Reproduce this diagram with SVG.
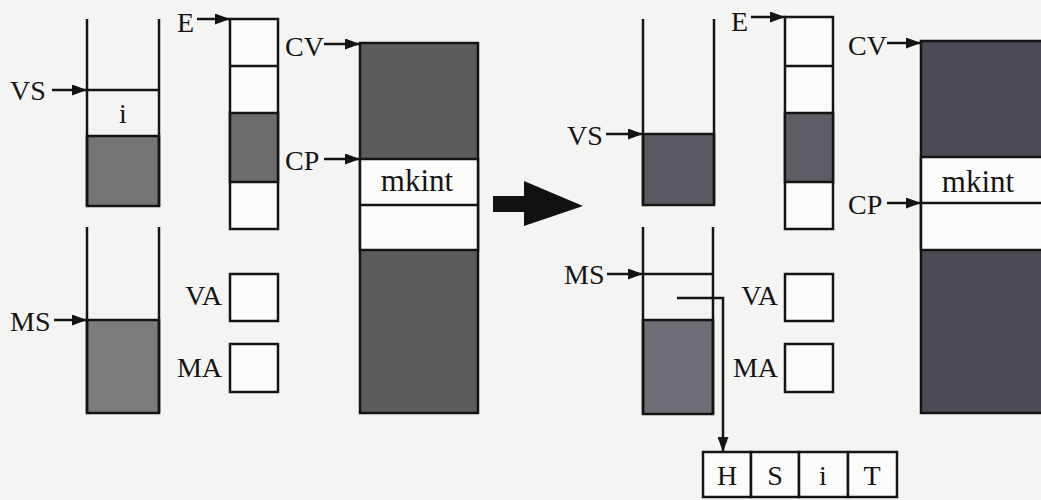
<svg xmlns="http://www.w3.org/2000/svg" width="1041" height="500" viewBox="0 0 1041 500">
<style>
.ln{stroke:#141414;stroke-width:2.5;fill:none}
.box{stroke:#141414;stroke-width:2.5;fill:#fbfbfa}
.sh{stroke:#141414;stroke-width:2.5}
.t{font-family:"Liberation Serif","Times New Roman",serif;font-size:28px;fill:#141414}
.mk{font-size:31px}
.ptr{stroke:#141414;stroke-width:2.5;fill:none;marker-end:url(#ah)}
</style>
<defs>
<marker id="ah" viewBox="0 0 15 11" refX="15" refY="5.5" markerWidth="15" markerHeight="11" markerUnits="userSpaceOnUse" orient="auto">
<path d="M0,0 L15,5.5 L0,11 Z" fill="#141414"/>
</marker>
</defs>
<rect width="1041" height="500" fill="#f4f4f2"/>

<!-- LEFT STATE -->
<g id="vs-stack-left">
<rect x="87" y="136" width="72" height="70" class="sh" fill="#747474"/>
<path class="ln" d="M87,19 V206 M159,19 V206 M87,90 H159"/>
<text class="t" x="123" y="123" text-anchor="middle">i</text>
</g>
<g id="e-stack-left">
<rect x="230" y="19" width="48" height="210" class="box"/>
<rect x="230" y="113" width="48" height="69" class="sh" fill="#6c6c6c"/>
<path class="ln" d="M230,66 H278"/>
</g>
<g id="ms-stack-left">
<rect x="87" y="320" width="72" height="93" class="sh" fill="#7c7c7c"/>
<path class="ln" d="M87,227 V413 M159,227 V413"/>
</g>
<g id="va-left"><rect x="230" y="274" width="48" height="47" class="box"/></g>
<g id="ma-left"><rect x="230" y="344" width="48" height="48" class="box"/></g>
<g id="code-left">
<rect x="360" y="43" width="118" height="370" class="sh" fill="#5c5c5c"/>
<rect x="360" y="159" width="118" height="91" class="box"/>
<path class="ln" d="M360,205 H478"/>
<text class="t mk" x="417" y="191" text-anchor="middle">mkint</text>
</g>

<!-- transition arrow -->
<g id="transition">
<polygon points="493,196 524,196 524,181 583,206 524,226 524,212 493,212" fill="#111"/>
</g>

<!-- RIGHT STATE -->
<g id="vs-stack-right">
<rect x="643" y="134" width="71" height="71" class="sh" fill="#5a5a62"/>
<path class="ln" d="M643,19 V205 M714,19 V205"/>
</g>
<g id="e-stack-right">
<rect x="785" y="17" width="48" height="212" class="box"/>
<rect x="785" y="113" width="48" height="69" class="sh" fill="#5e5e66"/>
<path class="ln" d="M785,66 H833"/>
</g>
<g id="ms-stack-right">
<rect x="643" y="320" width="70" height="94" class="sh" fill="#6e6e76"/>
<path class="ln" d="M643,227 V414 M713,227 V414 M643,274 H713"/>
</g>
<g id="va-right"><rect x="785" y="274" width="48" height="47" class="box"/></g>
<g id="ma-right"><rect x="785" y="344" width="48" height="48" class="box"/></g>
<g id="code-right">
<rect x="921" y="41" width="130" height="372" class="sh" fill="#4c4c57"/>
<rect x="921" y="157" width="130" height="93" class="box"/>
<path class="ln" d="M921,203 H1041"/>
<text class="t mk" x="978" y="192" text-anchor="middle">mkint</text>
</g>
<g id="heap-cell">
<rect x="703" y="452" width="48" height="45" class="box"/>
<rect x="751" y="452" width="48" height="45" class="box"/>
<rect x="799" y="452" width="49" height="45" class="box"/>
<rect x="848" y="452" width="49" height="45" class="box"/>
<text class="t" x="727" y="485" text-anchor="middle">H</text>
<text class="t" x="775" y="485" text-anchor="middle">S</text>
<text class="t" x="823" y="485" text-anchor="middle">i</text>
<text class="t" x="872" y="485" text-anchor="middle">T</text>
</g>

<!-- labels -->
<g id="labels">
<text class="t" x="10" y="100">VS</text>
<text class="t" x="10" y="331">MS</text>
<text class="t" x="177" y="32">E</text>
<text class="t" x="222" y="305" text-anchor="end">VA</text>
<text class="t" x="222" y="377" text-anchor="end">MA</text>
<text class="t" x="285" y="56">CV</text>
<text class="t" x="285" y="170">CP</text>
<text class="t" x="567" y="145">VS</text>
<text class="t" x="564" y="284">MS</text>
<text class="t" x="731" y="31">E</text>
<text class="t" x="778" y="305" text-anchor="end">VA</text>
<text class="t" x="778" y="377" text-anchor="end">MA</text>
<text class="t" x="848" y="55">CV</text>
<text class="t" x="848" y="214">CP</text>
</g>

<!-- connectors -->
<g id="connectors">
<path class="ptr" d="M52,90 H87"/>
<path class="ptr" d="M54,320 H87"/>
<path class="ptr" d="M197,19 H230"/>
<path class="ptr" d="M324,44 H360"/>
<path class="ptr" d="M324,159 H360"/>
<path class="ptr" d="M606,134 H643"/>
<path class="ptr" d="M607,274 H643"/>
<path class="ptr" d="M751,17 H785"/>
<path class="ptr" d="M887,43 H921"/>
<path class="ptr" d="M887,203 H921"/>
<path class="ptr" d="M677,298 H723 V452"/>
</g>
</svg>
